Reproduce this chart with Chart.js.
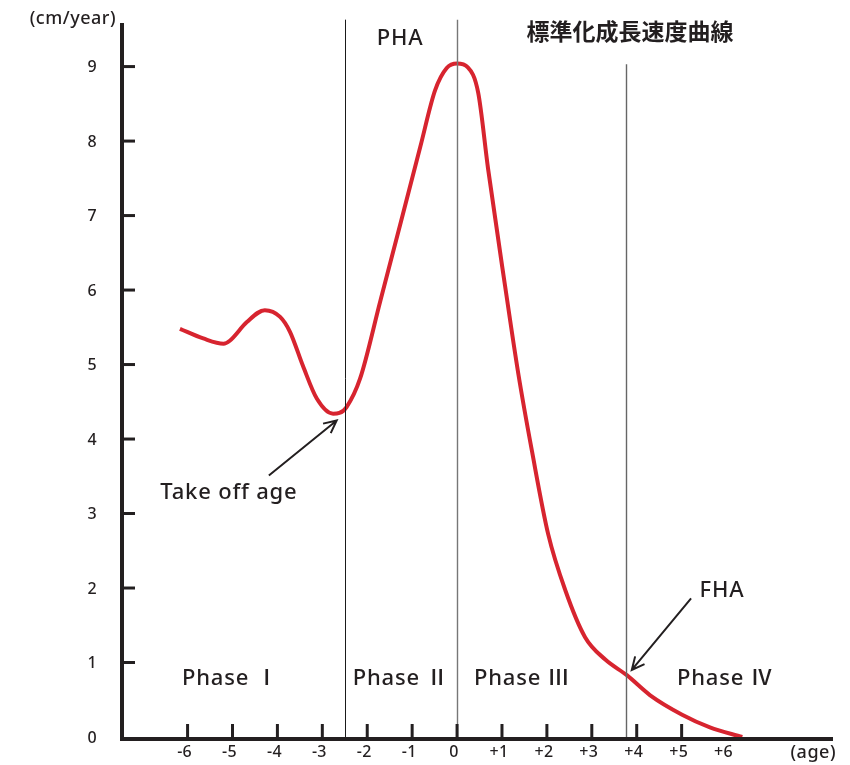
<!DOCTYPE html>
<html>
<head>
<meta charset="utf-8">
<script src="https://cdn.jsdelivr.net/npm/chart.js@4.4.1/dist/chart.umd.min.js"></script>
<style>
  html, body { margin: 0; padding: 0; background: #fff; }
</style>
</head>
<body>
<canvas id="chart" width="850" height="765"></canvas>
<script>
// growth velocity curve (age relative to PHA, cm/year)
const ageX = [-6.17, -5.65, -5.2, -5.06, -4.68, -4.28, -3.94, -3.72, -3.43, -3.12, -2.76, -2.62, -2.46, -2.16, -1.71, -1.27, -0.82, -0.49, -0.23, 0, 0.24, 0.47, 0.69, 1.07, 1.36, 1.67, 2.03, 2.41, 2.85, 3.3, 3.78, 4.3, 5.01, 5.63, 6.35];
const velocity = [5.48, 5.35, 5.28, 5.32, 5.57, 5.73, 5.64, 5.44, 4.98, 4.54, 4.34, 4.35, 4.43, 4.81, 5.85, 6.87, 7.92, 8.68, 8.98, 9.04, 8.99, 8.65, 7.63, 6.05, 4.89, 3.83, 2.72, 1.97, 1.34, 1.04, 0.83, 0.56, 0.30, 0.13, 0];

const xTicks = [-6, -5, -4, -3, -2, -1, 0, 1, 2, 3, 4, 5, 6];
const xTickMarks = [-6, -5, -4, -3, -2, -1, 0, 1, 2, 3, 4, 5];
const xTickLabels = ['-6', '-5', '-4', '-3', '-2', '-1', '0', '+1', '+2', '+3', '+4', '+5', '+6'];
const yTicks = [0, 1, 2, 3, 4, 5, 6, 7, 8, 9];

// phase boundaries and labels
const phaseLines = [-2.5, 0, 3.76];
const phaseLineTop = [9.63, 9.63, 9.03];
const phaseLineColor = ['#1a1a1a', '#777', '#666'];
const phaseLabels = ['Phase Ⅰ', 'Phase Ⅱ', 'Phase Ⅲ', 'Phase Ⅳ'];
const phaseLabelX = [-5.05, -1.25, 1.45, 5.97];
const phaseLabelY = 0.78;

const FONT = '"Noto Sans", "Noto Sans CJK JP", sans-serif';
const CJK = '"Noto Sans CJK JP", sans-serif';
const INK = '#231f20';

function arrow(ctx, x0, y0, x1, y1) {
  const a = Math.atan2(y1 - y0, x1 - x0), h = 14, s = 0.45;
  ctx.beginPath();
  ctx.moveTo(x0, y0);
  ctx.lineTo(x1, y1);
  ctx.moveTo(x1 - h * Math.cos(a - s), y1 - h * Math.sin(a - s));
  ctx.lineTo(x1, y1);
  ctx.lineTo(x1 - h * Math.cos(a + s), y1 - h * Math.sin(a + s));
  ctx.stroke();
}

const decorations = {
  id: 'decorations',
  afterDatasetsDraw(chart) {
    const { ctx, chartArea: area, scales: { x, y } } = chart;
    ctx.save();

    // phase lines
    phaseLines.forEach((v, i) => {
      const px = Math.round(x.getPixelForValue(v)) + 0.5;
      ctx.strokeStyle = phaseLineColor[i];
      ctx.lineWidth = i === 0 ? 1 : 1.4;
      ctx.beginPath();
      ctx.moveTo(px, y.getPixelForValue(phaseLineTop[i]));
      ctx.lineTo(px, y.getPixelForValue(0));
      ctx.stroke();
    });

    // axes
    ctx.strokeStyle = INK;
    ctx.lineWidth = 4;
    ctx.beginPath();
    ctx.moveTo(area.left, area.top);
    ctx.lineTo(area.left, area.bottom + 2);
    ctx.lineTo(area.right, area.bottom + 2);
    ctx.stroke();

    // tick marks (inward)
    ctx.lineWidth = 3;
    xTickMarks.forEach(v => {
      const px = x.getPixelForValue(v);
      ctx.beginPath();
      ctx.moveTo(px, area.bottom);
      ctx.lineTo(px, area.bottom - 13);
      ctx.stroke();
    });
    yTicks.slice(1).forEach(v => {
      const py = y.getPixelForValue(v);
      ctx.beginPath();
      ctx.moveTo(area.left, py);
      ctx.lineTo(area.left + 13, py);
      ctx.stroke();
    });

    // tick labels
    ctx.fillStyle = INK;
    ctx.font = '500 16px ' + FONT;
    ctx.letterSpacing = '0.3px';
    ctx.textAlign = 'center';
    ctx.textBaseline = 'middle';
    xTicks.forEach((v, i) => {
      ctx.fillText(xTickLabels[i], x.getPixelForValue(v) - 3, area.bottom + 15);
    });
    ctx.textAlign = 'right';
    yTicks.forEach(v => {
      ctx.fillText(String(v), area.left - 25, y.getPixelForValue(v) + 1);
    });

    // axis titles
    ctx.font = '500 18px ' + FONT;
    ctx.letterSpacing = '0.5px';
    ctx.textAlign = 'right';
    ctx.fillText('(cm/year)', area.left - 6, area.top - 4);
    ctx.fillText('(age)', area.right + 3, area.bottom + 16);

    // title
    ctx.font = 'bold 23px ' + CJK;
    ctx.letterSpacing = '0px';
    ctx.textAlign = 'center';
    ctx.fillText('標準化成長速度曲線', x.getPixelForValue(3.85), y.getPixelForValue(9.48));

    // annotations
    ctx.font = '500 22px ' + FONT;
    ctx.letterSpacing = '0.8px';
    ctx.fillText('PHA', x.getPixelForValue(-1.27), y.getPixelForValue(9.38));
    ctx.fillText('Take off age', x.getPixelForValue(-5.08), y.getPixelForValue(3.28));
    ctx.fillText('FHA', x.getPixelForValue(5.9), y.getPixelForValue(1.96));
    phaseLabels.forEach((t, i) => {
      ctx.fillText(t, x.getPixelForValue(phaseLabelX[i]), y.getPixelForValue(phaseLabelY));
    });

    ctx.strokeStyle = INK;
    ctx.lineWidth = 2;
    arrow(ctx, x.getPixelForValue(-4.19), y.getPixelForValue(3.51), x.getPixelForValue(-2.68), y.getPixelForValue(4.25));
    arrow(ctx, x.getPixelForValue(5.21), y.getPixelForValue(1.86), x.getPixelForValue(3.89), y.getPixelForValue(0.9));

    ctx.restore();
  }
};

new Chart(document.getElementById('chart'), {
  type: 'line',
  data: {
    datasets: [{
      data: ageX.map((v, i) => ({ x: v, y: velocity[i] })),
      borderColor: '#d7242f',
      borderWidth: 4,
      pointRadius: 0,
      cubicInterpolationMode: 'monotone',
      clip: false,
      fill: false
    }]
  },
  options: {
    responsive: false,
    animation: false,
    layout: { padding: { left: 122, right: 17, top: 23, bottom: 28 } },
    plugins: { legend: { display: false }, tooltip: { enabled: false } },
    scales: {
      x: { type: 'linear', min: -7.46, max: 8.37, display: false },
      y: { type: 'linear', min: 0, max: 9.585, display: false }
    }
  },
  plugins: [decorations]
});
</script>
</body>
</html>
